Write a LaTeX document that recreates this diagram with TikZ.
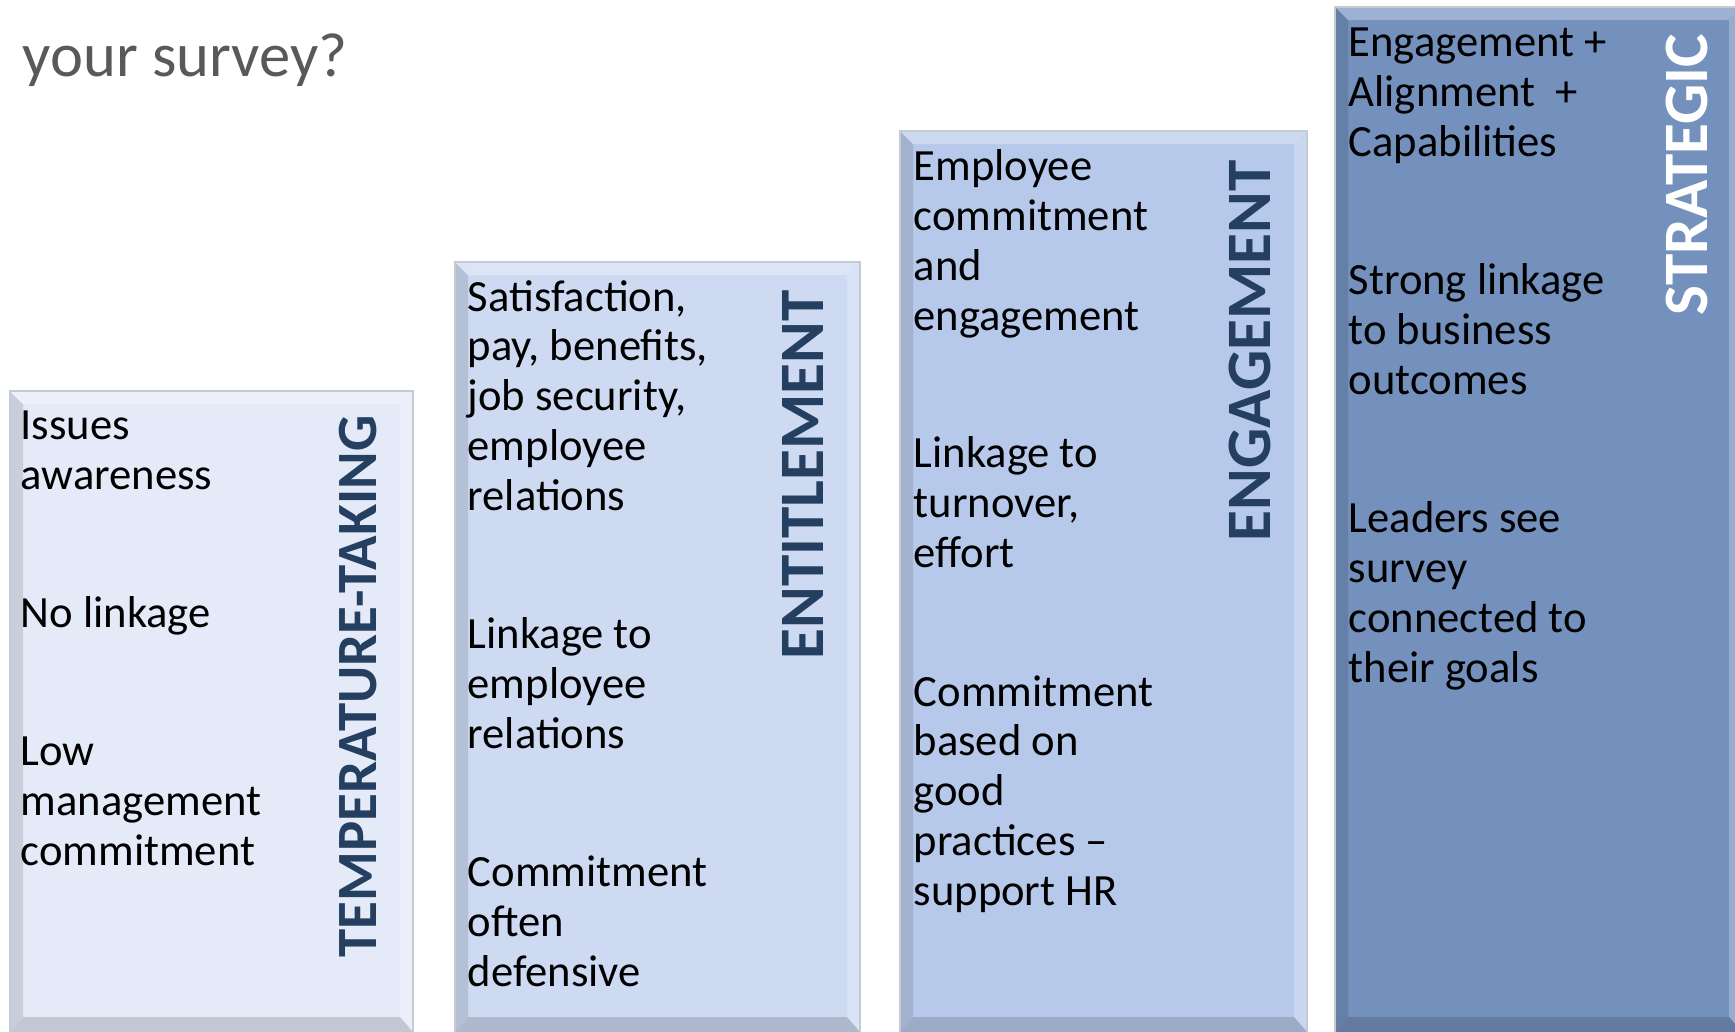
\documentclass[tikz,border=0pt]{standalone}
\usepackage{fontspec}
\setmainfont{Carlito}
\usepackage{xcolor}
\usetikzlibrary{positioning}
\definecolor{tempfill}{HTML}{E5EAF9}
\definecolor{entfill}{HTML}{CDDAF2}
\definecolor{engfill}{HTML}{B7C9EA}
\definecolor{stratfill}{HTML}{7490BD}
\definecolor{labelnavy}{HTML}{243F60}
\definecolor{titlegray}{HTML}{595959}
\definecolor{framegray}{HTML}{C6CBD3}
% one bevelled column: left, right, top, fill colour
\newcommand{\barcol}[4]{%
  \fill[#4] (#1,#3) rectangle (#2,1032);
  \fill[#4!88!black] (#1,#3) -- (#1+13,#3+13) -- (#1+13,1017) -- (#1,1032) -- cycle;
  \fill[#4!70!white] (#1,#3) -- (#2,#3) -- (#2-13,#3+13) -- (#1+13,#3+13) -- cycle;
  \fill[#4!75!white] (#2,#3) -- (#2,1032) -- (#2-13,1017) -- (#2-13,#3+13) -- cycle;
  \fill[#4!85!black] (#1,1032) -- (#1+13,1017) -- (#2-13,1017) -- (#2,1032) -- cycle;
  \draw[framegray, line width=0.6pt] (#1,1032) |- (#2,#3) -- (#2,1032);
}
\tikzset{
  bodytext/.style={anchor=base west, align=left, inner sep=0pt, text=black,
    font=\fontsize{12.7}{14.15}\selectfont},
  steplabel/.style={rotate=90, anchor=east, inner sep=0pt, text=labelnavy,
    font=\fontsize{18}{20}\selectfont\bfseries}
}

\begin{document}
\begin{tikzpicture}[x=0.1mm, y=-0.1mm]
\useasboundingbox (0,0) rectangle (1735,1032);
\begin{scope}
\clip (0,0) rectangle (1735,1032);
\barcol{10}{413}{391}{tempfill}
\barcol{455}{860}{262}{entfill}
\barcol{900}{1307}{131}{engfill}
\barcol{1335}{1742}{7}{stratfill}
\end{scope}
\node[anchor=base west, inner sep=0pt, text=titlegray, font=\fontsize{17.8}{20}\selectfont] (title) at (22,76) {your survey?};
% temperature-taking (nodes sit on their last line)
\node[bodytext] (tempA) at (20,489) {Issues\\awareness};
\node[bodytext] (tempB) at (20,627) {No linkage};
\node[bodytext] (tempC) at (20,865) {Low\\management\\commitment};
\node[steplabel, font=\fontsize{16.2}{18}\selectfont\bfseries] (tempL) at (358,415) {TEMPERATURE-TAKING};
% entitlement
\node[bodytext] (entA) at (467,510) {Satisfaction,\\pay, benefits,\\job security,\\employee\\relations};
\node[bodytext] (entB) at (467,748) {Linkage to\\employee\\relations};
\node[bodytext] (entC) at (467,986) {Commitment\\often\\defensive};
\node[steplabel] (entL) at (803,290) {ENTITLEMENT};
% engagement
\node[bodytext] (engA) at (913,330) {Employee\\commitment\\and\\engagement};
\node[bodytext] (engB) at (913,567) {Linkage to\\turnover,\\effort};
\node[bodytext] (engC) at (913,905) {Commitment\\based on\\good\\practices --\\support HR};
\node[steplabel] (engL) at (1250,160) {ENGAGEMENT};
% strategic
\node[bodytext] (stratA) at (1348,156) {Engagement +\\Alignment\ \ +\\Capabilities};
\node[bodytext] (stratB) at (1348,394) {Strong linkage\\to business\\outcomes};
\node[bodytext] (stratC) at (1348,682) {Leaders see\\survey\\connected to\\their goals};
\node[steplabel, text=white] (stratL) at (1687,33) {STRATEGIC};
\end{tikzpicture}
\end{document}
